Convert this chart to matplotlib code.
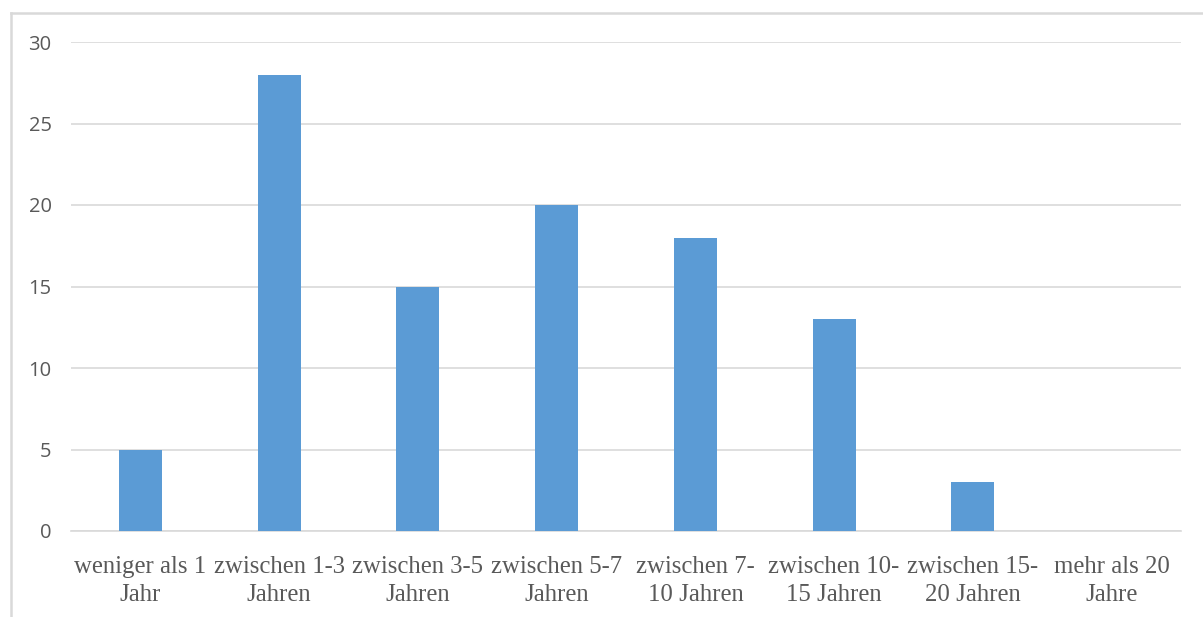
import matplotlib.pyplot as plt
from matplotlib.lines import Line2D

categories = [
    "weniger als 1\nJahr",
    "zwischen 1-3\nJahren",
    "zwischen 3-5\nJahren",
    "zwischen 5-7\nJahren",
    "zwischen 7-\n10 Jahren",
    "zwischen 10-\n15 Jahren",
    "zwischen 15-\n20 Jahren",
    "mehr als 20\nJahre",
]
counts = [5, 28, 15, 20, 18, 13, 3, 0]
yticks = [0, 5, 10, 15, 20, 25, 30]

W, H = 1203, 617
fig = plt.figure(figsize=(W / 100, H / 100), dpi=100)

# plot area in pixels: x 71..1181, y 42..531
ax = fig.add_axes([71 / W, 1 - 531 / H, (1181 - 71) / W, (531 - 42) / H])

x = range(len(categories))
ax.bar(x, counts, width=0.31, color="#5B9BD5", zorder=3)

ax.set_xlim(-0.5, len(categories) - 0.5)
ax.set_ylim(0, 30)
ax.set_yticks(yticks)
ax.set_yticklabels([str(t) for t in yticks], family="Open Sans", fontsize=14.5, color="#595959")
ax.set_xticks(list(x))
ax.set_xticklabels(categories, family="Liberation Serif", fontsize=17.8,
                   color="#595959", linespacing=1.38)

ax.grid(axis="y", color="#D9D9D9", linewidth=1.2, zorder=0)
for side in ["top", "right", "left"]:
    ax.spines[side].set_visible(False)
ax.spines["bottom"].set_color("#D9D9D9")
ax.spines["bottom"].set_linewidth(1.2)
ax.tick_params(axis="both", length=0)
ax.tick_params(axis="y", pad=14)
ax.tick_params(axis="x", pad=18)

# chart border (top and left edges visible)
frame_col = "#D9D9D9"
fig.add_artist(Line2D([11 / W, 1.0], [1 - 13 / H, 1 - 13 / H], color=frame_col, linewidth=1.8))
fig.add_artist(Line2D([11 / W, 11 / W], [0.0, 1 - 13 / H], color=frame_col, linewidth=1.8))

fig.savefig("out.png", dpi=100)
